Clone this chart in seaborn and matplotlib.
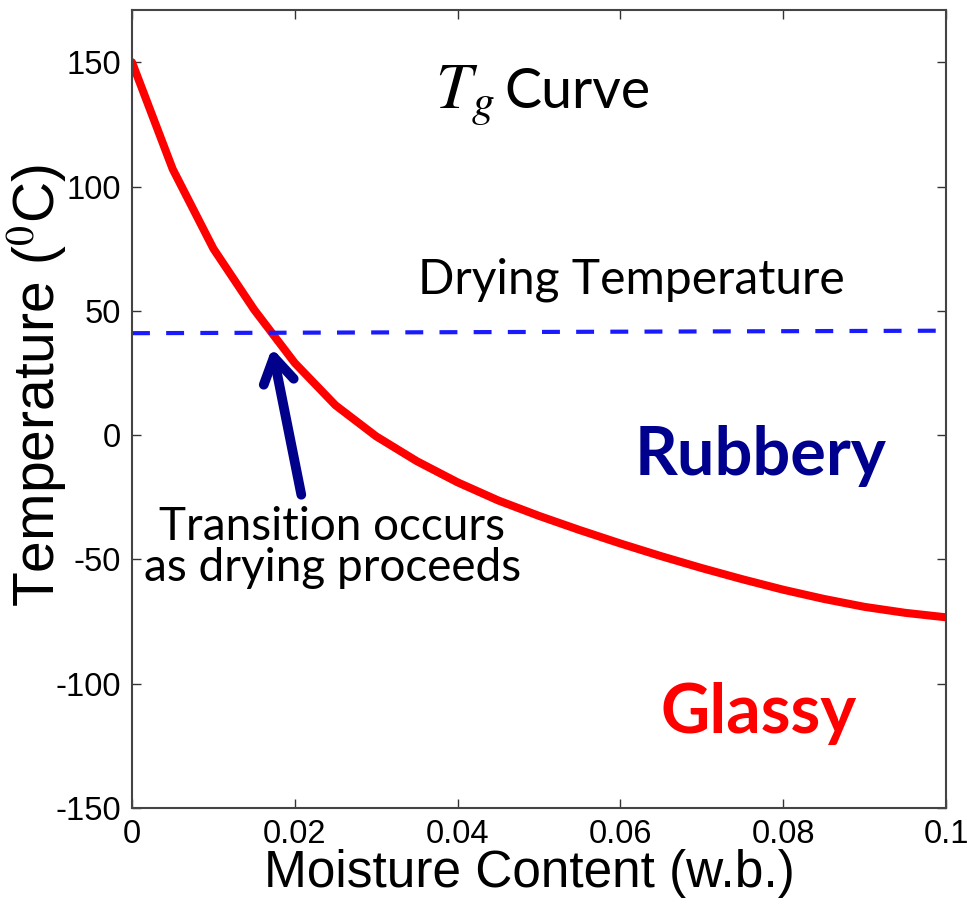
import matplotlib
matplotlib.use("Agg")
import matplotlib.pyplot as plt
from matplotlib import font_manager
import numpy as np
import pandas as pd
import seaborn as sns

# ---- data ----
moisture = [0.000, 0.005, 0.010, 0.015, 0.020, 0.025, 0.030, 0.035, 0.040, 0.045,
            0.050, 0.055, 0.060, 0.065, 0.070, 0.075, 0.080, 0.085, 0.090, 0.095, 0.100]
tg_temp = [150, 107, 75, 50.5, 29, 12, -0.5, -10.5, -19, -26.3,
           -32.5, -38.2, -43.6, -48.7, -53.5, -58, -62.2, -65.9, -69.1, -71.5, -73.3]
drying_x = [0.0, 0.1]
drying_temp = [41, 42]
x_ticks = [0, 0.02, 0.04, 0.06, 0.08, 0.1]
x_tick_labels = ["0", "0.02", "0.04", "0.06", "0.08", "0.1"]
y_ticks = [-150, -100, -50, 0, 50, 100, 150]
y_tick_labels = ["-150", "-100", "-50", "0", "50", "100", "150"]
arrow_tip = (0.0172, 35)
arrow_tail = (0.0208, -24)

sns.set_theme(style="white")
names = {f.name for f in font_manager.fontManager.ttflist}
narrow = "Liberation Sans Narrow" in names
axis_font = "Liberation Sans Narrow" if narrow else "Liberation Sans"
tick_size = 27 if narrow else 23.5
xlabel_size = 45 if narrow else 37
plt.rcParams["font.family"] = ["Liberation Sans", "DejaVu Sans"]
plt.rcParams["mathtext.fontset"] = "stix"
plt.rcParams["text.color"] = "black"
plt.rcParams["axes.labelcolor"] = "black"

fig = plt.figure(figsize=(9.67, 9.19), dpi=100)
ax = fig.add_axes([0.1365, 0.1208, 0.8418, 0.8683])

df = pd.DataFrame({"Moisture": moisture, "Tg": tg_temp})
sns.lineplot(data=df, x="Moisture", y="Tg", color="#ff0000", lw=5.8, ax=ax)
sns.lineplot(x=drying_x, y=drying_temp, color="#1a1aff", lw=3, ax=ax,
             dashes=False, linestyle=(0, (4.3, 3.9)))

ax.set_xlim(0, 0.1)
ax.set_ylim(-150, 171)
ax.set_xticks(x_ticks)
ax.set_xticklabels(x_tick_labels, family=axis_font)
ax.set_yticks(y_ticks)
ax.set_yticklabels(y_tick_labels, family=axis_font)
ax.tick_params(direction="in", length=6.5, width=1, top=True, right=True,
               bottom=True, left=True, labelsize=tick_size, colors="#333333",
               labelcolor="black")
ax.tick_params(axis="x", pad=8)
ax.tick_params(axis="y", pad=8)
for s in ax.spines.values():
    s.set_color("#444444")
    s.set_linewidth(1.5)

ax.set_xlabel("Moisture Content (w.b.)", fontsize=xlabel_size, family=axis_font)
ax.set_ylabel("Temperature ($^{0}$C)", fontsize=41, family="Liberation Sans")
ax.xaxis.set_label_coords(0.488, -0.052)
ax.yaxis.set_label_coords(-0.077, 0.529)

# annotations
ax.text(0.372, 0.877, "$T_g$", transform=ax.transAxes, fontsize=47,
        ha="left", va="baseline")
ax.text(0.457, 0.877, "Curve", transform=ax.transAxes, fontsize=40,
        family="Lato", ha="left", va="baseline")
ax.text(0.614, 0.645, "Drying Temperature", transform=ax.transAxes, fontsize=34.5,
        family="Lato", ha="center", va="baseline")
ax.text(0.772, 0.417, "Rubbery", transform=ax.transAxes, fontsize=48,
        family="Lato", weight="bold", color="#00008f", ha="center", va="baseline")
ax.text(0.770, 0.094, "Glassy", transform=ax.transAxes, fontsize=49,
        family="Lato", weight="bold", color="#ff0000", ha="center", va="baseline")
ax.text(0.246, 0.285, "Transition occurs\nas drying proceeds", transform=ax.transAxes,
        fontsize=33, family="Lato", ha="center", va="baseline", linespacing=0.95)
ax.annotate("", xy=arrow_tip, xytext=arrow_tail,
            arrowprops=dict(arrowstyle="->,head_length=0.9,head_width=0.55",
                            color="#00008b", lw=7, mutation_scale=20,
                            shrinkA=0, shrinkB=0))

fig.savefig("out.png", dpi=100)
